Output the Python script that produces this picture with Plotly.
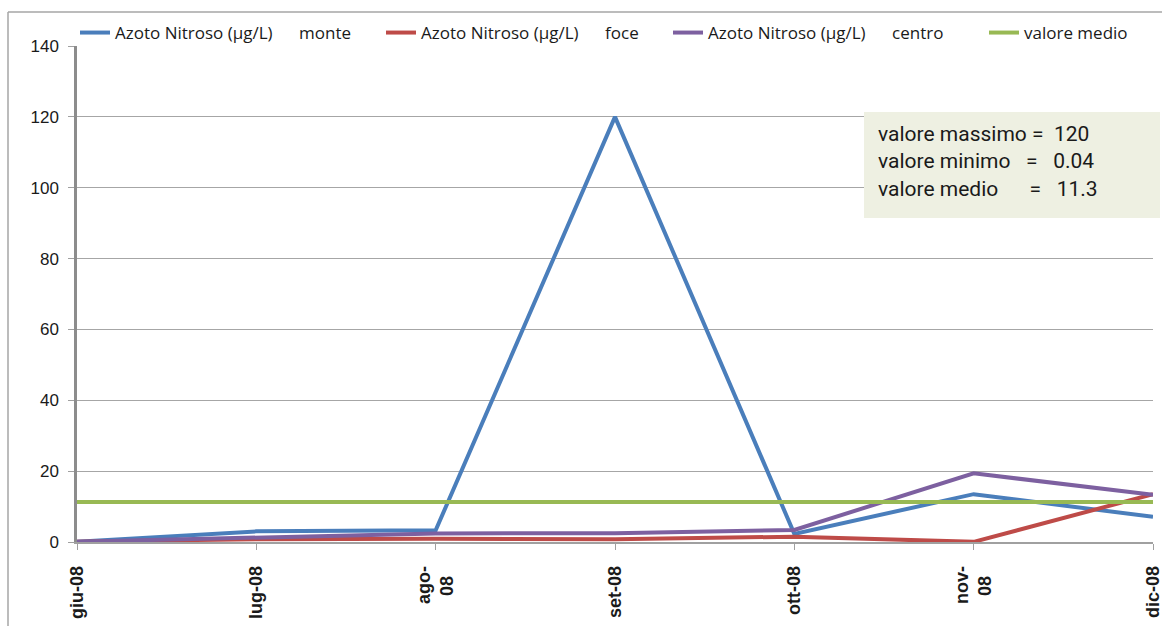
import plotly.graph_objects as go

# Monthly sampling dates (Italian month abbreviations)
months = ["giu-08", "lug-08", "ago-08", "set-08", "ott-08", "nov-08", "dic-08"]
month_labels = ["giu-08", "lug-08", "ago-<br>08\u00a0\u00a0", "set-08", "ott-08",
                "nov-<br>08\u00a0\u00a0", "dic-08"]

# Nitrite nitrogen (µg/L) at the three stations
monte = [0.1, 3.0, 3.3, 120, 2.3, 13.5, 7.1]
foce = [0.1, 0.8, 0.9, 0.8, 1.5, 0.04, 13.5]
centro = [0.1, 1.2, 2.4, 2.5, 3.4, 19.4, 13.3]

valore_massimo = 120
valore_minimo = 0.04
valore_medio = 11.3

y_ticks = [0, 20, 40, 60, 80, 100, 120, 140]

# plot area in pixels
W, H = 1162, 626
L, R, T, B = 77, 9, 46, 84
pw = W - L - R
ph = H - T - B


def px_x(p):
    return (p - L) / pw


def px_y(p):
    return (H - B - p) / ph


fig = go.Figure()

# each series gets its own legend box so the entries sit on one spaced row
series = [
    ("Azoto Nitroso (µg/L)      monte", monte, "#4a7ebb", "legend", 75),
    ("Azoto Nitroso (µg/L)      foce", foce, "#be4b48", "legend2", 381),
    ("Azoto Nitroso (µg/L)      centro", centro, "#7d60a0", "legend3", 668),
    ("valore medio", [valore_medio] * len(months), "#98b954", "legend4", 984),
]
legend_layout = {}
for name, vals, color, leg, lx in series:
    fig.add_trace(go.Scatter(
        x=months, y=vals, name=name, mode="lines", legend=leg,
        line=dict(color=color, width=4),
    ))
    legend_layout[leg] = dict(
        orientation="h", x=px_x(lx), y=px_y(33), xanchor="left", yanchor="middle",
        font=dict(family="Open Sans", size=17, color="#1a1a1a"),
        itemwidth=30, bgcolor="rgba(0,0,0,0)",
    )

# summary box
fig.add_shape(
    type="rect", xref="paper", yref="paper",
    x0=px_x(864), x1=px_x(1160), y0=px_y(218), y1=px_y(112),
    fillcolor="#eef0e2", line=dict(width=0), layer="above",
)
summary = (
    f"valore massimo =  {valore_massimo}<br>"
    f"valore minimo   =   {valore_minimo}<br>"
    f"valore medio      =   {valore_medio}"
)
fig.add_annotation(
    xref="paper", yref="paper", x=px_x(876), y=px_y(161),
    xanchor="left", yanchor="middle", align="left", showarrow=False,
    text=summary, font=dict(family="Roboto", size=21, color="#1a1a1a"),
)

# outer chart frame (left and top edges)
fig.add_shape(type="line", xref="paper", yref="paper",
              x0=px_x(8), x1=px_x(1162), y0=px_y(12), y1=px_y(12),
              line=dict(color="#a6a6a6", width=1.5))
fig.add_shape(type="line", xref="paper", yref="paper",
              x0=px_x(8), x1=px_x(8), y0=px_y(12), y1=px_y(626),
              line=dict(color="#a6a6a6", width=1.5))

fig.update_layout(
    width=W, height=H,
    margin=dict(l=L, r=R, t=T, b=B, autoexpand=False),
    paper_bgcolor="white", plot_bgcolor="white",
    showlegend=True,
    font=dict(family="Liberation Sans", color="#1a1a1a"),
    **legend_layout,
)

fig.update_xaxes(
    type="category", tickvals=months, ticktext=month_labels,
    range=[0, len(months) - 1], tickangle=-90, automargin=False,
    tickfont=dict(family="Liberation Sans", size=18, color="#1a1a1a", weight="bold"),
    showgrid=False, showline=True, linecolor="#a0a0a0", linewidth=1.5,
    ticks="outside", ticklen=6, tickcolor="#a0a0a0", ticklabelstandoff=9,
)
fig.update_yaxes(
    range=[0, 140], tickvals=y_ticks, automargin=False,
    tickfont=dict(family="Liberation Sans", size=17, color="#1a1a1a"),
    showgrid=True, gridcolor="#a6a6a6", gridwidth=1,
    showline=True, linecolor="#8c8c8c", linewidth=2.5,
    ticks="outside", ticklen=6, tickcolor="#a0a0a0",
    zeroline=False, ticklabelstandoff=6,
)

fig.write_html("out.html")
